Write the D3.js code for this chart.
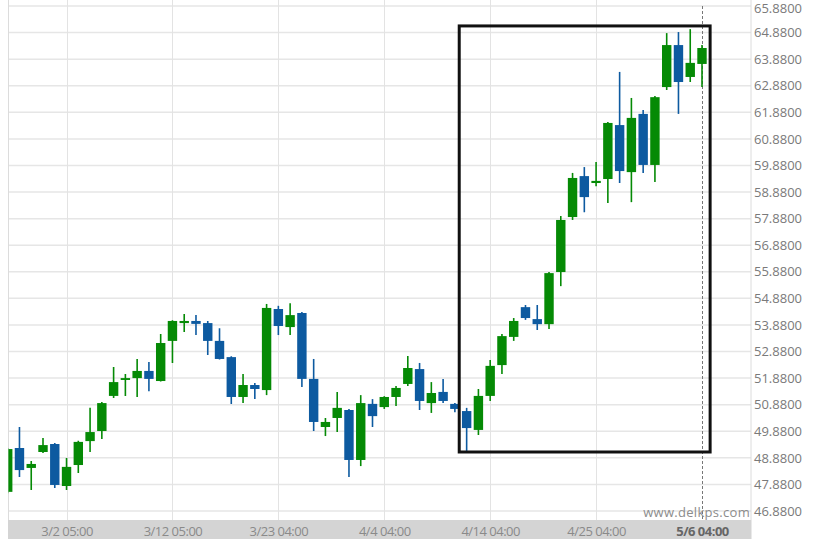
<!DOCTYPE html>
<html><head><meta charset="utf-8">
<script src="https://cdn.jsdelivr.net/npm/d3@7"></script>
<style>
html,body{margin:0;padding:0;background:#fff;}
svg{display:block;}
</style></head>
<body>
<svg id="chart" width="822" height="548"></svg>
<script>
// ---- data (daily candles, oldest first) ----
const candleOpen  = [47.60,49.25,48.50,49.10,49.40,47.82,48.61,49.51,49.89,51.21,
                     51.81,51.88,52.15,51.77,53.28,53.95,54.03,53.95,53.28,52.67,
                     51.17,51.62,51.43,54.48,53.80,54.33,51.85,50.04,50.38,50.68,
                     48.80,50.91,50.79,51.17,51.66,52.22,50.94,51.36,50.91,50.64,
                     49.93,51.21,52.37,53.43,54.55,54.10,53.91,55.87,57.94,59.48,
                     59.22,59.37,61.40,59.63,61.82,59.90,62.83,64.41,63.21,63.70];
const candleHigh  = [49.25,50.04,48.76,49.63,49.44,48.87,49.52,50.76,50.98,52.30,
                     52.03,52.60,52.49,53.54,54.06,54.29,54.25,54.03,53.76,52.70,
                     52.03,51.70,54.67,54.60,54.70,54.37,52.60,50.38,51.36,50.72,
                     51.24,51.09,51.20,51.58,52.71,52.45,51.73,51.85,50.94,50.76,
                     51.47,52.56,53.54,54.14,54.63,54.63,55.87,57.98,59.60,59.82,
                     60.01,61.52,63.40,62.42,61.97,62.49,64.86,64.90,65.01,64.41];
const candleLow   = [47.55,48.16,47.67,49.06,47.75,47.67,48.31,49.10,49.59,51.13,
                     51.21,51.17,51.39,51.75,52.45,53.61,53.50,52.75,52.58,50.91,
                     50.94,51.09,51.24,53.50,53.50,51.55,49.89,49.70,49.85,48.16,
                     48.57,50.04,50.72,50.83,51.58,50.68,50.57,50.94,50.60,49.14,
                     49.74,51.02,52.03,53.28,54.07,53.69,53.73,55.34,57.83,58.12,
                     59.10,58.47,59.22,58.50,59.60,59.26,62.72,61.82,63.02,62.83];
const candleClose = [49.21,48.42,48.65,49.36,47.86,48.54,49.48,49.85,50.94,51.73,
                     51.88,52.15,51.85,53.20,54.03,54.03,53.92,53.28,52.60,51.17,
                     51.62,51.47,54.52,53.84,54.25,51.85,50.23,50.23,50.76,48.80,
                     50.94,50.45,51.17,51.51,52.26,51.02,51.32,51.02,50.72,50.00,
                     51.21,52.34,53.46,54.03,54.14,53.91,55.83,57.83,59.41,58.69,
                     59.30,61.48,59.67,61.67,59.90,62.45,64.41,63.02,63.74,64.30];
const tickIndex  = [5,14,23,32,41,50,59];
const tickLabels = ["3/2 05:00","3/12 05:00","3/23 04:00","4/4 04:00","4/14 04:00","4/25 04:00","5/6 04:00"];
const yTickValues = [46.88,47.88,48.88,49.88,50.88,51.88,52.88,53.88,54.88,55.88,
                     56.88,57.88,58.88,59.88,60.88,61.88,62.88,63.88,64.88,65.88];
// highlighted breakout zone: candle index range and price range
const zoneIndex = [38.37, 59.69];
const zonePrice = [49.10, 65.13];

const candles = candleOpen.map((o,i)=>({i, o, h:candleHigh[i], l:candleLow[i], c:candleClose[i]}));

const svg = d3.select("#chart");
const plotL = 8.5, plotR = 751, plotT = 0, plotB = 520;

const x = d3.scaleLinear().domain([0, candles.length-1]).range([7.7, 702]);
const y = d3.scaleLinear().domain([46.88, 65.88]).range([511, 6]);

svg.append("defs").append("clipPath").attr("id","clip")
  .append("rect").attr("x",plotL).attr("y",plotT).attr("width",plotR-plotL).attr("height",plotB-plotT);

// horizontal grid
svg.append("g").selectAll("line").data(yTickValues).join("line")
  .attr("x1",plotL).attr("x2",plotR)
  .attr("y1",d=>y(d)).attr("y2",d=>y(d))
  .attr("stroke","#e6e6e6").attr("stroke-width",1.5);

// vertical grid
svg.append("g").selectAll("line").data(tickIndex.slice(0,-1)).join("line")
  .attr("x1",d=>Math.round(x(d))+0.5).attr("x2",d=>Math.round(x(d))+0.5)
  .attr("y1",plotT).attr("y2",plotB)
  .attr("stroke","#e3e3e3").attr("stroke-width",1);

// plot borders
svg.append("line").attr("x1",plotL).attr("x2",plotL).attr("y1",plotT).attr("y2",plotB)
  .attr("stroke","#dcdcdc").attr("stroke-width",1);
svg.append("line").attr("x1",plotR).attr("x2",plotR).attr("y1",plotT).attr("y2",plotB)
  .attr("stroke","#dcdcdc").attr("stroke-width",1);

// last-candle dashed line
svg.append("line")
  .attr("x1",Math.round(x(candles.length-1))+0.5).attr("x2",Math.round(x(candles.length-1))+0.5)
  .attr("y1",plotT+6).attr("y2",plotB)
  .attr("stroke","#777").attr("stroke-width",1).attr("stroke-dasharray","3,2");

// watermark
svg.append("text").attr("x",plotR-1).attr("y",517)
  .attr("text-anchor","end").attr("font-family","Open Sans, sans-serif")
  .attr("font-size",13).attr("fill","#8c8c8c").attr("letter-spacing",0.3)
  .text("www.delkps.com");

// candles
const green = "#058a05", blue = "#0d5aa0";
const cg = svg.append("g").attr("clip-path","url(#clip)");
const cs = cg.selectAll("g").data(candles).join("g");
cs.append("line")
  .attr("x1",d=>x(d.i)).attr("x2",d=>x(d.i))
  .attr("y1",d=>y(d.h)).attr("y2",d=>y(d.l))
  .attr("stroke",d=>d.c>=d.o?green:blue).attr("stroke-width",1.6);
const bw = 9.4;
cs.append("rect")
  .attr("x",d=>x(d.i)-bw/2).attr("width",bw)
  .attr("y",d=>y(Math.max(d.o,d.c)))
  .attr("height",d=>Math.max(1.5, Math.abs(y(d.o)-y(d.c))))
  .attr("fill",d=>d.c>=d.o?green:blue);

// zone box
svg.append("rect")
  .attr("x",x(zoneIndex[0])).attr("y",y(zonePrice[1]))
  .attr("width",x(zoneIndex[1])-x(zoneIndex[0]))
  .attr("height",y(zonePrice[0])-y(zonePrice[1]))
  .attr("fill","none").attr("stroke","#111").attr("stroke-width",3);

// x-axis band
svg.append("rect").attr("x",plotL-0.5).attr("y",plotB).attr("width",plotR-plotL+1).attr("height",19)
  .attr("fill","#d4d4d4");

const xAxis = d3.axisBottom(x).tickValues(tickIndex).tickSize(0)
  .tickFormat((d,i)=>tickLabels[i]);
const xg = svg.append("g").attr("transform",`translate(0,${plotB})`).call(xAxis);
xg.select(".domain").remove();
xg.selectAll("text").attr("y",0).attr("dy","1.22em")
  .attr("font-family","Open Sans, sans-serif").attr("font-size",13)
  .attr("letter-spacing",-0.5)
  .attr("font-weight",(d,i)=>i===tickIndex.length-1?"bold":"normal")
  .attr("fill",(d,i)=>i===tickIndex.length-1?"#666":"#8a8a8a");

// y axis labels
const yAxis = d3.axisRight(y).tickValues(yTickValues).tickSize(0).tickPadding(3)
  .tickFormat(d3.format(".4f"));
const yg = svg.append("g").attr("transform",`translate(${plotR},0)`).call(yAxis);
yg.select(".domain").remove();
yg.selectAll("text").attr("font-family","Open Sans, sans-serif").attr("font-size",13)
  .attr("fill","#7a7a7a")
  .attr("dy",d=>d===yTickValues[yTickValues.length-1]?"0.5em":"0.32em");
</script>
</body></html>
